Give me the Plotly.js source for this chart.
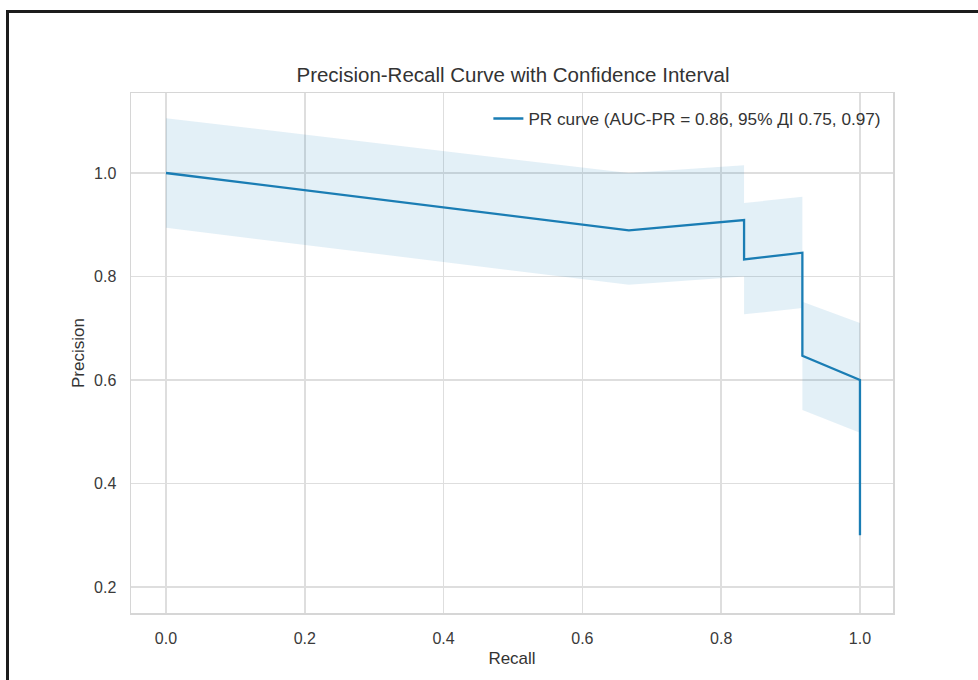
<!DOCTYPE html>
<html>
<head>
<meta charset="utf-8">
<script src="https://cdn.plot.ly/plotly-3.0.1.min.js"></script>
<style>
  html, body { margin: 0; padding: 0; background: #ffffff; }
  #wrap { position: relative; width: 978px; height: 680px; overflow: hidden; }
  #chart { position: absolute; left: 0; top: 0; width: 978px; height: 680px; }
  #frame { position: absolute; left: 6px; top: 10px; right: -10px; bottom: -10px;
           border-top: 3px solid #1c1c1c; border-left: 3px solid #1c1c1c; pointer-events: none; }
</style>
</head>
<body>
<div id="wrap">
  <div id="chart"></div>
  <div id="frame"></div>
</div>
<script>
// Precision-recall curve points
const recall    = [0.0, 0.667, 0.833, 0.833, 0.917, 0.917, 1.0, 1.0];
const precision = [1.0, 0.889, 0.909, 0.833, 0.846, 0.647, 0.600, 0.300];
// Confidence band (upper / lower) at the same recall points
const ciUpper   = [1.106, 1.000, 1.015, 0.942, 0.954, 0.751, 0.710, 0.406];
const ciLower   = [0.894, 0.784, 0.800, 0.727, 0.739, 0.542, 0.498, 0.194];
const curveLabel = "PR curve (AUC-PR = 0.86, 95% ДІ 0.75, 0.97)";
const xTicks = [0.0, 0.2, 0.4, 0.6, 0.8, 1.0];
const yTicks = [0.2, 0.4, 0.6, 0.8, 1.0];

const lineColor = '#1a7db4';
const bandColor = 'rgba(1,115,178,0.11)';
const fontFam = '"Liberation Sans", Arial, "DejaVu Sans", sans-serif';

const traces = [
  { x: recall, y: ciLower, mode: 'lines', line: {width: 0, color: bandColor},
    showlegend: false, hoverinfo: 'skip' },
  { x: recall, y: ciUpper, mode: 'lines', line: {width: 0, color: bandColor},
    fill: 'tonexty', fillcolor: bandColor, showlegend: false, hoverinfo: 'skip' },
  { x: recall, y: precision, mode: 'lines', name: curveLabel,
    line: {color: lineColor, width: 2.3} }
];

const axisCommon = {
  showgrid: true, gridcolor: '#dedede', gridwidth: 1.5,
  zeroline: false, showline: true, mirror: true, linecolor: '#d6d6d6', linewidth: 1.5,
  ticks: '', tickfont: {family: fontFam, size: 16, color: '#3a3a3a'},
  ticklabelstandoff: 10
};

const layout = {
  width: 978, height: 680,
  margin: {l: 131, r: 85, t: 93, b: 67},
  paper_bgcolor: '#ffffff', plot_bgcolor: '#ffffff',
  font: {family: fontFam, color: '#333333'},
  title: {text: 'Precision-Recall Curve with Confidence Interval',
          font: {family: fontFam, size: 20.5, color: '#333333'},
          x: 0.5245, xanchor: 'center', y: 1 - 75/680, yanchor: 'middle', yref: 'container'},
  xaxis: Object.assign({}, axisCommon, {
    range: [-0.0504, 1.0476], tickvals: xTicks, tickformat: '.1f',
    title: {text: 'Recall', font: {family: fontFam, size: 17, color: '#333333'}, standoff: 6}
  }),
  yaxis: Object.assign({}, axisCommon, {
    range: [0.1498, 1.1546], tickvals: yTicks, tickformat: '.1f',
    title: {text: 'Precision', font: {family: fontFam, size: 17, color: '#333333'}, standoff: 5}
  }),
  legend: {x: 0.469, xanchor: 'left', y: 0.985, yanchor: 'top',
           bgcolor: 'rgba(255,255,255,0)', borderwidth: 0,
           font: {family: fontFam, size: 17.2, color: '#333333'}},
  showlegend: true
};

Plotly.newPlot('chart', traces, layout, {staticPlot: true, displayModeBar: false});
</script>
</body>
</html>
